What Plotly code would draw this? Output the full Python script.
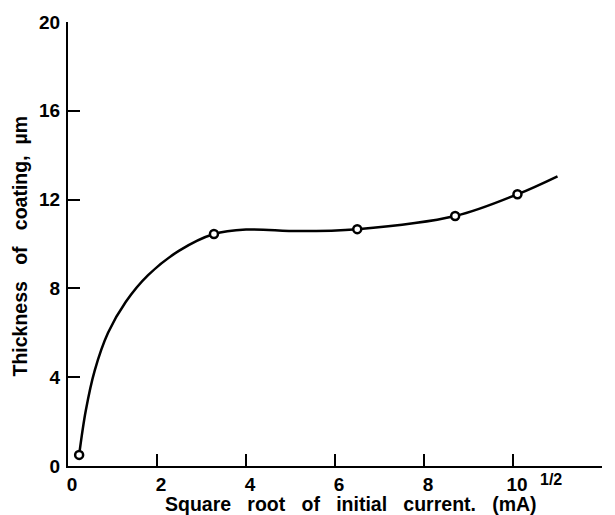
import plotly.graph_objects as go

# Measured coating thickness vs square root of initial current
sqrt_current = [0.25, 3.28, 6.5, 8.7, 10.1]
thickness = [0.5, 10.45, 10.67, 11.26, 12.24]

# Nodes of the smooth trend curve drawn through the measurements
curve_x = [0.25, 0.4, 0.6, 0.9, 1.3, 1.8, 2.5, 3.28, 4.0, 5.2, 6.5, 8.7, 10.1, 11.0]
curve_y = [0.5, 2.5, 4.3, 6.0, 7.4, 8.6, 9.7, 10.45, 10.65, 10.58, 10.67, 11.26, 12.24, 13.05]

x_ticks = [0, 2, 4, 6, 8, 10, 12]
y_ticks = [0, 4, 8, 12, 16, 20]

W, H = 615, 515
L, R, T, B = 68, 13, 19, 49
pw, ph = W - L - R, H - T - B

FONT = "Liberation Sans, Arial, Helvetica, sans-serif"
NB = "\u00a0"

fig = go.Figure()
fig.add_trace(go.Scatter(
    x=curve_x, y=curve_y, mode="lines",
    line=dict(color="black", width=2.5, shape="spline", smoothing=1.0),
    hoverinfo="skip", showlegend=False,
))
fig.add_trace(go.Scatter(
    x=sqrt_current, y=thickness, mode="markers",
    marker=dict(symbol="circle", size=8, color="white",
                line=dict(color="black", width=2.5)),
    showlegend=False,
))

axis_common = dict(
    showline=True, linecolor="black", linewidth=2,
    ticks="inside", ticklen=12, tickwidth=2, tickcolor="black",
    showgrid=False, zeroline=False, mirror=False,
    tickfont=dict(family=FONT, size=19, color="black", weight="bold"),
)
fig.update_xaxes(range=[0, 12], tickvals=x_ticks, ticktext=[str(v) for v in x_ticks],
                 ticklabelshift=4, **axis_common)
fig.update_yaxes(range=[0, 20], tickvals=y_ticks, ticktext=[str(v) for v in y_ticks],
                 ticklabelstandoff=2, **axis_common)

def px_x(p):
    return (p - L) / pw

def px_y(p):
    return (H - B - p) / ph

xg = NB * 3
yg = NB * 3
x_title = f"Square{xg}root{xg}of{xg}initial{xg}current.{xg}(mA)"
y_title = f"Thickness{yg}of{yg}coating,{NB}{NB}µm"
title_font = dict(family=FONT, size=19.5, color="black", weight="bold")

fig.add_annotation(x=px_x(539), y=px_y(504), xref="paper", yref="paper",
                   xanchor="right", yanchor="middle", showarrow=False,
                   text=x_title, font=title_font)
fig.add_annotation(x=px_x(538), y=px_y(480), xref="paper", yref="paper",
                   xanchor="left", yanchor="middle", showarrow=False,
                   text="1/2", font=dict(family=FONT, size=16, color="black", weight="bold"))
fig.add_annotation(x=px_x(20), y=px_y(245), xref="paper", yref="paper",
                   xanchor="center", yanchor="middle", showarrow=False,
                   textangle=-90, text=y_title, font=title_font)

fig.update_layout(
    width=W, height=H,
    margin=dict(l=L, r=R, t=T, b=B),
    paper_bgcolor="white", plot_bgcolor="white",
    font=dict(family=FONT, color="black"),
)

fig.write_html("out.html")
